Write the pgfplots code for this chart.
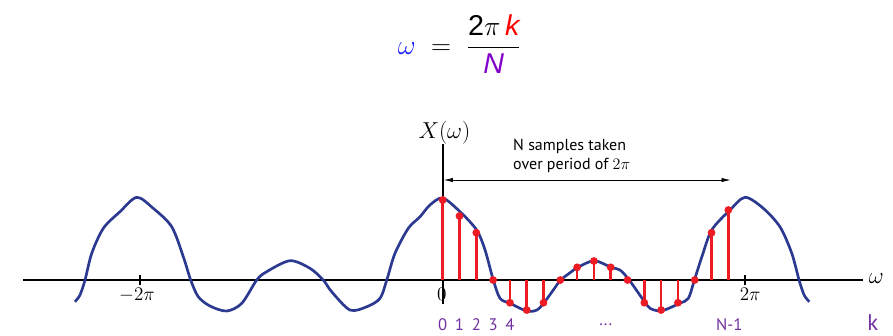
\documentclass[border=0pt]{standalone}
\usepackage[no-math]{fontspec}
\usepackage{pgfplots}
\pgfplotsset{compat=1.18}
\usetikzlibrary{arrows.meta}
\setmainfont{PT Sans}
\newfontfamily\titlefont{Liberation Sans}

\definecolor{curveblue}{RGB}{43,57,144}
\definecolor{stemred}{RGB}{237,28,36}
\definecolor{klabel}{RGB}{112,48,160}
\definecolor{nviolet}{RGB}{128,0,200}
\definecolor{omegablue}{RGB}{30,30,255}

\begin{document}
\begin{tikzpicture}
\begin{axis}[
  x=12.6pt, y=0.75pt,
  xmin=-26.35, xmax=26.80, ymin=-55, ymax=280,
  axis lines=none, clip=false,
  anchor=south west, at={(0,0)},
]
% frame of the picture
\path (axis cs:-26.35,-55) rectangle (axis cs:26.80,280);

% omega axis and X(omega) axis
\draw[line width=1.5pt] (axis cs:-24.96,0) -- (axis cs:25.0,0);
\draw[line width=1.5pt] (axis cs:0,-24) -- (axis cs:0,136);
\pgfplotsinvokeforeach{-18,18}{
  \draw[line width=1.2pt] (axis cs:#1,-5) -- (axis cs:#1,5);
}

% spectrum X(omega), periodic with period 2pi (18 samples)
\addplot[curveblue, line width=2pt, smooth, tension=0.5] coordinates {
  (-21.89,-21.7) (-21.59,-15) (-21.29,0) (-20.89,26.7) (-20.20,51.7)
  (-19.21,68.3) (-18.21,82.7) (-17.23,71.7) (-16.13,53.3) (-15.44,23.3)
  (-15.0,0) (-14.55,-16.7) (-13.85,-26) (-12.86,-31) (-11.96,-23.3)
  (-11.07,0) (-10.48,8.3) (-9.09,19.3) (-7.90,11.7) (-7.11,0)
  (-6.61,-11.7) (-5.52,-30) (-4.52,-26.7) (-3.73,-18.3) (-3.33,0)
  (-2.84,26.7) (-2.05,51.7) (-1.35,63.3) (-0.76,75) (0,82)
  (1.03,68.3) (2.02,50) (2.52,30) (3.01,0) (3.41,-18.3) (4.0,-23.3)
  (5.0,-31) (5.6,-30) (6.03,-22.7) (6.58,-10) (7.02,0) (7.58,7.3)
  (8.04,12.7) (9.02,19.3) (10.02,12.7) (10.55,10) (11.1,0) (11.94,-20)
  (12.34,-28.3) (13.04,-30.7) (14.1,-23.3) (14.62,-18.3) (14.98,0)
  (15.42,23) (16.01,50) (17.1,70) (18.0,82.7) (19.08,71.7) (20.08,53)
  (20.77,27) (21.21,0) (21.51,-15) (21.82,-21.7)
};

% N samples X(2 pi k / N), k = 0 ... N-1
\addplot[ycomb, stemred, line width=1.9pt, mark=*, mark size=1.9pt,
  mark options={fill=stemred, draw=stemred}] coordinates {
  (0,80) (1,64) (2,47.3) (3,0) (4,-22.7) (5,-30) (6,-22.7) (7,0)
  (8,12.7) (9,19) (10,12.7) (11,0) (12,-22.7) (13,-30) (14,-22.7)
  (15,0) (16,47.3) (17,70)
};

% one period
\draw[{Latex[length=7pt,width=3.2pt]}-{Latex[length=7pt,width=3.2pt]}, line width=0.6pt]
  (axis cs:0.05,100) -- (axis cs:17.15,100);
\node[anchor=west, align=left, font=\fontsize{12}{14}\selectfont, inner sep=0pt]
  at (axis cs:4.18,124) {N samples taken\\over period of $2\pi$};

% axis labels
\node[font=\fontsize{16}{18}\selectfont] at (axis cs:0.1,147) {$X(\omega)$};
\node[font=\fontsize{16}{18}\selectfont] at (axis cs:25.8,1) {$\omega$};
\node[font=\fontsize{13.5}{15}\selectfont] at (axis cs:-18.2,-15) {$-2\pi$};
\node[font=\fontsize{13.5}{15}\selectfont] at (axis cs:-0.05,-14) {$0$};
\node[font=\fontsize{13.5}{15}\selectfont] at (axis cs:18.3,-14) {$2\pi$};

% sample index k
\pgfplotsinvokeforeach{0,1,2,3,4}{
  \node[klabel, font=\fontsize{12.5}{14}\selectfont] at (axis cs:#1,-45) {#1};
}
\node[klabel, font=\fontsize{12.5}{14}\selectfont] at (axis cs:9.7,-45) {...};
\node[klabel, font=\fontsize{12.5}{14}\selectfont] at (axis cs:17.05,-45) {N-1};
\node[klabel, font=\fontsize{17}{19}\selectfont] at (axis cs:25.6,-43) {k};

% sampling frequencies
\node[font=\fontsize{21.5}{25}\selectfont] at (axis cs:1.0,236)
  {$\displaystyle {\color{omegablue}\omega} \;=\;
   \frac{\mbox{\titlefont 2}\pi\mbox{\titlefont\color{red}\itshape\,k}}
        {\mbox{\titlefont\color{nviolet}\itshape N}}$};
\end{axis}
\end{tikzpicture}
\end{document}
